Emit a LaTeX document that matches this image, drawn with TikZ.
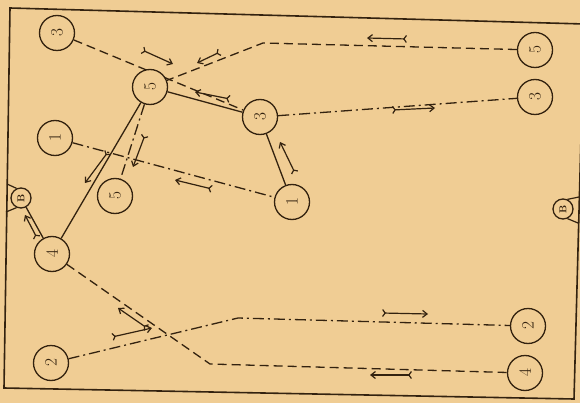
\documentclass[tikz,border=0pt]{standalone}
\usepackage{tikz}
\usetikzlibrary{arrows.meta,calc,backgrounds}
\definecolor{paper}{HTML}{F0CD94}
\definecolor{ink}{HTML}{33220F}

\begin{document}
\begin{tikzpicture}[
    x=1pt, y=-1pt,
    player/.style={circle, draw=ink, fill=paper, line width=1.3pt, minimum size=35pt, inner sep=0pt, font=\LARGE, text=ink, rotate=90},
    goal/.style={circle, draw=ink, fill=paper, line width=1.3pt, minimum size=20pt, inner sep=0pt, font=\normalsize\bfseries, text=ink},
    court/.style={draw=ink, line width=1.6pt},
    track/.style={draw=ink, line width=1.3pt},
    cut/.style={track, dash pattern=on 9pt off 5pt},
    pass/.style={track, dash pattern=on 11pt off 4pt on 2pt off 4pt},
    move/.style={draw=ink, line width=1.2pt, {Straight Barb[reversed,length=2.5pt,width=7pt]}-{Straight Barb[length=4.5pt,width=7pt]}}
]
\useasboundingbox (0,0) rectangle (580,403);

% players
\node [player] (lthree) at (57,33) {3};
\node [player] (cfive) at (150,87) {5};
\node [player] (cthree) at (260,117) {3};
\node [player] (lone) at (55,138) {1};
\node [player] (cone) at (292,202) {1};
\node [player] (lfive) at (115,196) {5};
\node [player] (four) at (52,254) {4};
\node [player] (ltwo) at (51,363) {2};
\node [player] (rfive) at (535,50) {5};
\node [player] (rthree) at (535,97) {3};
\node [player] (rtwo) at (528,326) {2};
\node [player] (rfour) at (525,373) {4};

% baskets
\node [goal] (basketL) at (21,198) {\rotatebox{90}{B}};
\node [goal] (basketR) at (563,209) {\rotatebox{90}{B}};

\coordinate (wallL1) at (7,184);
\coordinate (wallL2) at (6,212);
\coordinate (wallR1) at (579,197);
\coordinate (wallR2) at (578,223);
\coordinate (bendtop) at (263,43);
\coordinate (bendtwo) at (238,318);
\coordinate (bendfour) at (210,364);

\begin{scope}[on background layer]
\fill [paper] (0,0) rectangle (580,403);
\draw [court] (10,8) -- (584,24) -- (574,399) -- (4,388) -- cycle;
\draw [court, line width=1.2pt] (basketL.115) -- (wallL1);
\draw [court, line width=1.2pt] (basketL.245) -- (wallL2);
\draw [court, line width=1.2pt] (basketR.65) -- (wallR1);
\draw [court, line width=1.2pt] (basketR.295) -- (wallR2);

\draw [cut] (lthree) -- (cthree);
\draw [cut] (rfive) -- (bendtop) -- (cfive);
\draw [track] (cfive) -- (cthree);
\draw [track] (cthree) -- (cone);
\draw [pass] (cthree) -- (rthree);
\draw [pass] (lone) -- (cone);
\draw [track] (cfive) -- (four);
\draw [pass] (cfive) -- (lfive);
\draw [track] (four) -- (basketL);
\draw [cut] (four) -- (bendfour) -- (rfour);
\draw [pass] (ltwo) -- (bendtwo) -- (rtwo);
\end{scope}

% movement arrows
\draw [move] (142,50) -- (173,64);
\draw [move] (220,52) -- (197,63);
\draw [move] (407,39) -- (367,38);
\draw [move] (230,99) -- (195,92);
\draw [move] (295,173) -- (280,142);
\draw [move] (392,110) -- (435,108);
\draw [move] (212,189) -- (175,180);
\draw [move] (108,152) -- (85,183);
\draw [move] (145,135) -- (133,167);
\draw [move] (37,238) -- (25,215);
\draw [move] (147,328) -- (118,308);
\draw [move] (112,337) -- (152,328);
\draw [move] (382,313) -- (428,314);
\draw [move] (412,375) -- (370,375);

\end{tikzpicture}
\end{document}
